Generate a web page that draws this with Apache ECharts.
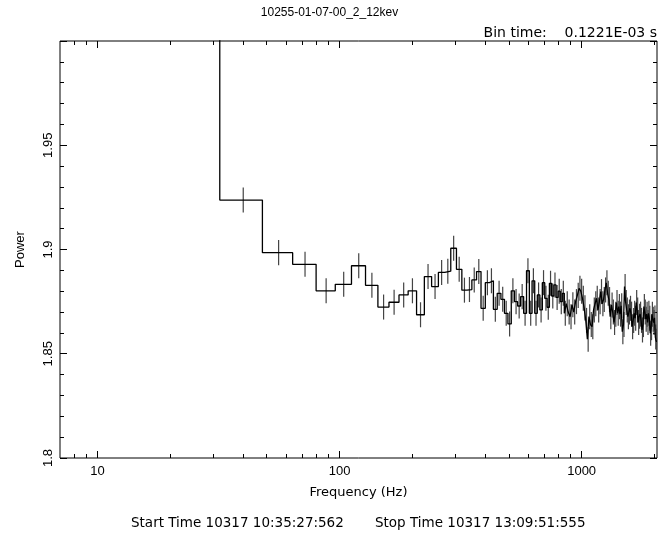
<!DOCTYPE html>
<html>
<head>
<meta charset="utf-8">
<title>Power spectrum</title>
<script src="https://cdn.jsdelivr.net/npm/echarts@6/dist/echarts.min.js"></script>
<style>
  html, body { margin: 0; padding: 0; background: #fff; }
  #chart { width: 659px; height: 540px; }
</style>
</head>
<body>
<div id="chart"></div>
<script>
// Bin centre frequencies (Hz); every bin is 16 Hz wide
const frequencies = [
  24, 40, 56, 72, 88, 104, 120, 136, 152, 168, 184, 200, 216, 232, 248, 264, 280, 296, 312, 328,
  344, 360, 376, 392, 408, 424, 440, 456, 472, 488, 504, 520, 536, 552, 568, 584, 600, 616, 632, 648,
  664, 680, 696, 712, 728, 744, 760, 776, 792, 808, 824, 840, 856, 872, 888, 904, 920, 936, 952, 968,
  984, 1000, 1016, 1032, 1048, 1064, 1080, 1096, 1112, 1128, 1144, 1160, 1176, 1192, 1208, 1224, 1240, 1256, 1272, 1288,
  1304, 1320, 1336, 1352, 1368, 1384, 1400, 1416, 1432, 1448, 1464, 1480, 1496, 1512, 1528, 1544, 1560, 1576, 1592, 1608,
  1624, 1640, 1656, 1672, 1688, 1704, 1720, 1736, 1752, 1768, 1784, 1800, 1816, 1832, 1848, 1864, 1880, 1896, 1912, 1928,
  1944, 1960, 1976, 1992, 2008, 2024, 2040
];
const binHalfWidth = 8;

// Averaged power in each bin
const power = [
  2.10,
  1.9237, 1.8985, 1.8929, 1.8802, 1.8833, 1.8922, 1.8828, 1.8724, 1.8747, 1.8782,
  1.8802, 1.8687, 1.8870, 1.8822, 1.8890, 1.8896, 1.9006, 1.8905, 1.8805, 1.8808,
  1.8854, 1.8894, 1.8718, 1.8841, 1.8850, 1.8713, 1.8790, 1.8761, 1.8694, 1.8643,
  1.8802, 1.8750, 1.8729, 1.8774, 1.8694, 1.8898, 1.8694, 1.8850, 1.8694, 1.8782,
  1.8710, 1.8841, 1.8766, 1.8723, 1.8838, 1.8777, 1.8830, 1.8770, 1.8800, 1.8750,
  1.8790, 1.8694, 1.8740, 1.8700, 1.8678, 1.8735, 1.8700, 1.8750, 1.8780, 1.8814,
  1.8800, 1.8766, 1.8720, 1.8660, 1.8570, 1.8678, 1.8640, 1.8630, 1.8710, 1.8740,
  1.8766, 1.8710, 1.8750, 1.8798, 1.8740, 1.8760, 1.8806, 1.8840, 1.8790, 1.8760,
  1.8678, 1.8734, 1.8700, 1.8650, 1.8690, 1.8746, 1.8694, 1.8726, 1.8690, 1.8730,
  1.8606, 1.8640, 1.8822, 1.8746, 1.8710, 1.8678, 1.8700, 1.8718, 1.8690, 1.8630,
  1.8660, 1.8694, 1.8670, 1.8746, 1.8710, 1.8650, 1.8680, 1.8690, 1.8660, 1.8614,
  1.8640, 1.8726, 1.8700, 1.8666, 1.8690, 1.8650, 1.8694, 1.8670, 1.8598, 1.8625,
  1.8690, 1.8665, 1.8650, 1.8672, 1.8580, 1.8560
];

// Half-length of the one-sigma error bars
const powerError = 0.006;

// Axis tick positions and labels
const freqMajorTicks = [10, 100, 1000];
const freqMinorTicks = [8, 9, 20, 30, 40, 50, 60, 70, 80, 90,
  200, 300, 400, 500, 600, 700, 800, 900, 2000];
const powerTickLabels = ['1.8', '1.85', '1.9', '1.95'];

const titleText = '10255-01-07-00_2_12kev';
const binTimeText = 'Bin time:    0.1221E-03 s';
const startText = 'Start Time 10317 10:35:27:562';
const stopText = 'Stop Time 10317 13:09:51:555';
const xAxisTitle = 'Frequency (Hz)';
const yAxisTitle = 'Power';

const FONT = '"Liberation Sans", "DejaVu Sans", sans-serif';
const WIDE_FONT = '"DejaVu Sans", "Liberation Sans", sans-serif';
const INK = '#000';

// Histogram outline: each bin is a flat segment across its frequency range
const stepPoints = [];
frequencies.forEach((f, i) => {
  stepPoints.push([f - binHalfWidth, power[i]]);
  stepPoints.push([f + binHalfWidth, power[i]]);
});
const errorData = frequencies.map((f, i) => [f, power[i], powerError]);

function freqAxis(position, ticks, tickLen, withLabels) {
  return {
    type: 'log',
    logBase: 10,
    min: 7,
    max: 2048,
    position: position,
    axisLine: { show: false },
    splitLine: { show: false },
    minorTick: { show: false },
    axisTick: {
      show: true, inside: true, length: tickLen, customValues: ticks,
      lineStyle: { color: INK, width: 1 }
    },
    axisLabel: withLabels ? {
      show: true, customValues: freqMajorTicks, margin: 7,
      color: INK, fontFamily: FONT, fontSize: 13,
      formatter: v => String(Math.round(v))
    } : { show: false },
    name: withLabels ? xAxisTitle : '',
    nameLocation: 'middle',
    nameGap: 28,
    nameTextStyle: { color: INK, fontFamily: WIDE_FONT, fontSize: 13 }
  };
}

function powerAxis(position, withLabels) {
  return {
    type: 'value',
    min: 1.8,
    max: 2.0,
    interval: 0.05,
    position: position,
    axisLine: { show: false },
    splitLine: { show: false },
    axisTick: { show: true, inside: true, length: 7, lineStyle: { color: INK, width: 1 } },
    minorTick: { show: true, splitNumber: 5, length: 4, lineStyle: { color: INK, width: 1 } },
    minorSplitLine: { show: false },
    axisLabel: withLabels ? {
      show: true, rotate: 90, margin: 5,
      color: INK, fontFamily: FONT, fontSize: 13,
      formatter: v => {
        const idx = Math.round((v - 1.8) / 0.05);
        return powerTickLabels[idx] !== undefined ? powerTickLabels[idx] : '';
      }
    } : { show: false },
    name: withLabels ? yAxisTitle : '',
    nameLocation: 'middle',
    nameRotate: 90,
    nameGap: 33,
    nameTextStyle: { color: INK, fontFamily: FONT, fontSize: 13 }
  };
}

const chart = echarts.init(document.getElementById('chart'), null, { renderer: 'canvas' });

chart.setOption({
  animation: false,
  backgroundColor: '#fff',
  grid: {
    left: 60, top: 41, width: 597, height: 417,
    show: true, borderColor: INK, borderWidth: 1, backgroundColor: 'transparent'
  },
  xAxis: [
    freqAxis('bottom', freqMajorTicks, 7, true),
    freqAxis('bottom', freqMinorTicks, 4, false),
    freqAxis('top', freqMajorTicks, 7, false),
    freqAxis('top', freqMinorTicks, 4, false)
  ],
  yAxis: [
    powerAxis('left', true),
    powerAxis('right', false)
  ],
  graphic: [
    { type: 'text', left: 'center', top: 7, silent: true,
      style: { text: titleText, fill: INK, font: '12px ' + FONT } },
    { type: 'text', right: 2, top: 26, silent: true,
      style: { text: binTimeText, fill: INK, font: '14px ' + WIDE_FONT } },
    { type: 'text', left: 131, top: 516, silent: true,
      style: { text: startText, fill: INK, font: '13.5px ' + WIDE_FONT } },
    { type: 'text', left: 375, top: 516, silent: true,
      style: { text: stopText, fill: INK, font: '13.5px ' + WIDE_FONT } }
  ],
  series: [
    {
      type: 'line',
      xAxisIndex: 0,
      yAxisIndex: 0,
      data: stepPoints,
      symbol: 'none',
      clip: true,
      lineStyle: { color: INK, width: 1.3 },
      z: 3
    },
    {
      type: 'custom',
      xAxisIndex: 0,
      yAxisIndex: 0,
      clip: true,
      data: errorData,
      encode: { x: 0, y: 1 },
      renderItem: function (params, api) {
        const f = api.value(0);
        const p = api.value(1);
        const e = api.value(2);
        const top = api.coord([f, p + e]);
        const bot = api.coord([f, p - e]);
        return {
          type: 'line',
          shape: { x1: top[0], y1: top[1], x2: bot[0], y2: bot[1] },
          style: { stroke: '#444', lineWidth: 1.2 }
        };
      },
      z: 2
    }
  ]
});
</script>
</body>
</html>
